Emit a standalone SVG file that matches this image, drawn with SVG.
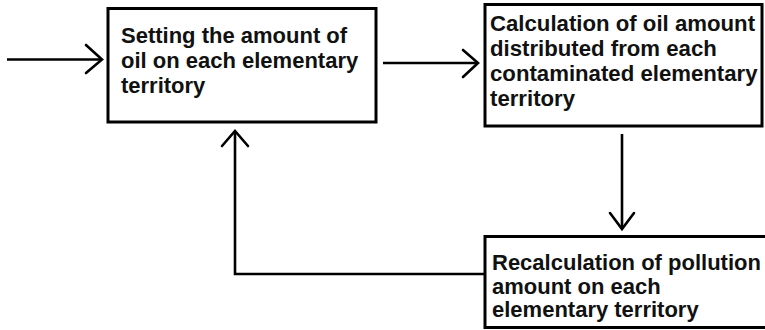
<svg xmlns="http://www.w3.org/2000/svg" width="765" height="330" viewBox="0 0 765 330">
<style>
.box{fill:#fff;stroke:#000;stroke-width:3}
.t{font-family:"Liberation Sans",Arial,sans-serif;font-weight:bold;font-size:22px;fill:#111}
.t2{font-size:22.2px}
.ln{fill:none;stroke:#000;stroke-width:2.6}
.ah{fill:none;stroke:#000;stroke-width:2.6;stroke-linecap:round;stroke-linejoin:miter}
</style>
<rect width="765" height="330" fill="#fff"/>
<g id="n1">
<rect class="box" x="108" y="8.5" width="268" height="113.5"/>
<text class="t"><tspan x="121" y="43">Setting the amount of</tspan><tspan x="121" y="68">oil on each elementary</tspan><tspan x="121" y="93">territory</tspan></text>
</g>
<g id="n2">
<rect class="box" x="485" y="4.5" width="277" height="121.5"/>
<text class="t t2"><tspan x="490" y="31">Calculation of oil amount</tspan><tspan x="490" y="56">distributed from each</tspan><tspan x="490" y="81">contaminated elementary</tspan><tspan x="490" y="106">territory</tspan></text>
</g>
<g id="n3">
<rect class="box" x="485" y="236.5" width="285" height="91"/>
<text class="t"><tspan x="492" y="270">Recalculation of pollution</tspan><tspan x="492" y="294">amount on each</tspan><tspan x="492" y="317">elementary territory</tspan></text>
</g>
<g id="connectors">
<path class="ln" d="M7 59.5H102"/>
<path class="ah" d="M86 45L102 59.5L86 73"/>
<path class="ln" d="M383 63H478"/>
<path class="ah" d="M463 50L478 63L463 77"/>
<path class="ln" d="M622 134V229"/>
<path class="ah" d="M610 213L622 229L634 213"/>
<path class="ln" d="M485 274H235V131"/>
<path class="ah" d="M222 146L235 131L248 146"/>
</g>
</svg>
